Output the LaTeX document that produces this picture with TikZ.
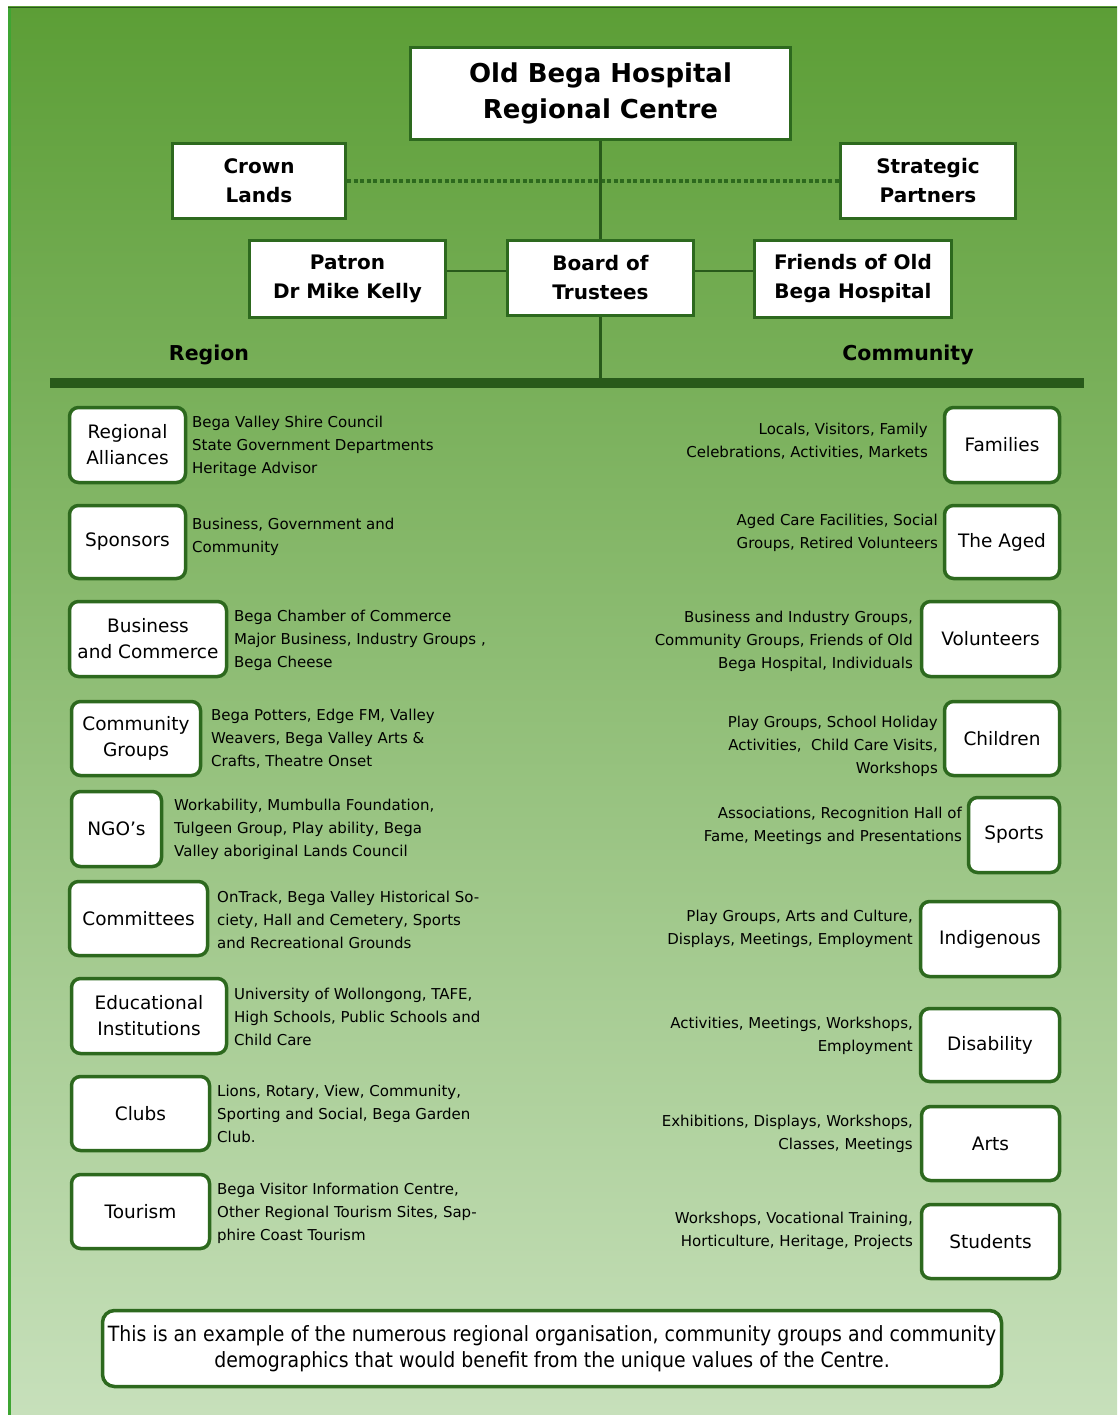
\documentclass[tikz,border=0pt]{standalone}
\usepackage{fontspec}
\setmainfont{DejaVu Sans}
\newfontfamily\narrowfont[FakeStretch=0.9]{DejaVu Sans}

\definecolor{bgtop}{RGB}{92,158,54}
\definecolor{bgbottom}{RGB}{199,224,187}
\definecolor{pageedge}{RGB}{62,165,50}
\definecolor{boxline}{RGB}{45,105,30}
\definecolor{barline}{RGB}{40,90,26}

\tikzset{
  orgbox/.style={draw=boxline, line width=3pt, fill=white, inner sep=2pt, align=center,
    font=\bfseries\fontsize{20}{29}\selectfont},
  groupbox/.style={draw=boxline, line width=3.5pt, fill=white, rounded corners=9pt, inner sep=2pt,
    align=center, font=\fontsize{18.5}{26}\selectfont},
  leftdesc/.style={anchor=west, align=left, inner sep=0pt, font=\fontsize{15}{23}\selectfont},
  rightdesc/.style={anchor=east, align=right, inner sep=0pt, font=\fontsize{15}{23}\selectfont},
  heading/.style={font=\bfseries\fontsize{20.5}{23}\selectfont},
  link/.style={draw=barline, line width=2.5pt},
}

\begin{document}
\begin{tikzpicture}[x=1pt, y=-1pt]
  \useasboundingbox (0,0) rectangle (1117,1415);
  \shade[top color=bgtop, bottom color=bgbottom] (8,7) rectangle (1117,1415);
  \draw[pageedge, line width=3pt] (9.5,7) -- (9.5,1415);
  \draw[barline, line width=1.5pt] (8,7.5) -- (1117,7.5);

  % management
  \node[orgbox, minimum width=380pt, minimum height=92pt, font=\bfseries\fontsize{26}{36}\selectfont]
    (centre) at (600.5,93.5) {Old Bega Hospital\\Regional Centre};
  \node[orgbox, minimum width=173pt, minimum height=75pt] (crown) at (259,181) {Crown\\Lands};
  \node[orgbox, minimum width=175pt, minimum height=75pt] (strategic) at (928,181) {Strategic\\Partners};
  \node[orgbox, minimum width=196pt, minimum height=77pt] (patron) at (347.5,279) {Patron\\Dr Mike Kelly};
  \node[orgbox, minimum width=186pt, minimum height=75pt] (board) at (600.5,278) {Board of\\Trustees};
  \node[orgbox, minimum width=197pt, minimum height=77pt] (friends) at (853,279) {Friends of Old\\Bega Hospital};

  \coordinate (barleft) at (50,383);
  \coordinate (barright) at (1084,383);
  \draw[barline, line width=10pt] (barleft) -- (barright);

  \draw[boxline, line width=3.5pt, dash pattern=on 4pt off 2.5pt] (crown.east) -- (strategic.west);
  \draw[link] (centre.south) -- (board.north);
  \draw[link] (board.south) -- (board.south |- barleft);
  \draw[link] ([yshift=7pt]board.west) -- ([yshift=7pt]board.west -| patron.east);
  \draw[link] ([yshift=7pt]board.east) -- ([yshift=7pt]board.east -| friends.west);

  \node[heading] (region) at (209,355) {Region};
  \node[heading] (community) at (908,355) {Community};

  % region
  \node[groupbox, minimum width=116pt, minimum height=75pt] (alliances) at (127.5,445) {Regional\\Alliances};
  \node[leftdesc] (alliancesinfo) at (192,446) {Bega Valley Shire Council\\State Government Departments\\Heritage Advisor};
  \node[groupbox, minimum width=116pt, minimum height=73pt] (sponsors) at (127.5,542) {Sponsors};
  \node[leftdesc] (sponsorsinfo) at (192,536.5) {Business, Government and\\Community};
  \node[groupbox, minimum width=157pt, minimum height=75pt] (business) at (148,639) {Business\\and Commerce};
  \node[leftdesc] (businessinfo) at (234,640) {Bega Chamber of Commerce\\Major Business, Industry Groups ,\\Bega Cheese};
  \node[groupbox, minimum width=129pt, minimum height=74pt] (groups) at (136,738.5) {Community\\Groups};
  \node[leftdesc] (groupsinfo) at (211,739) {Bega Potters, Edge FM, Valley\\Weavers, Bega Valley Arts \&\\Crafts, Theatre Onset};
  \node[groupbox, minimum width=90pt, minimum height=75pt] (ngo) at (116.5,829) {NGO’s};
  \node[leftdesc] (ngoinfo) at (174,829) {Workability, Mumbulla Foundation,\\Tulgeen Group, Play ability, Bega\\Valley aboriginal Lands Council};
  \node[groupbox, minimum width=138pt, minimum height=74pt] (committees) at (138.5,918.5) {Committees};
  \node[leftdesc] (committeesinfo) at (217,920) {OnTrack, Bega Valley Historical So-\\ciety, Hall and Cemetery, Sports\\and Recreational Grounds};
  \node[groupbox, minimum width=155pt, minimum height=75pt] (education) at (149,1016) {Educational\\Institutions};
  \node[leftdesc] (educationinfo) at (234,1017) {University of Wollongong, TAFE,\\High Schools, Public Schools and\\Child Care};
  \node[groupbox, minimum width=138pt, minimum height=74pt] (clubs) at (140.5,1113.5) {Clubs};
  \node[leftdesc] (clubsinfo) at (217,1114) {Lions, Rotary, View, Community,\\Sporting and Social, Bega Garden\\Club.};
  \node[groupbox, minimum width=138pt, minimum height=74pt] (tourism) at (140.5,1211.5) {Tourism};
  \node[leftdesc] (tourisminfo) at (217,1213) {Bega Visitor Information Centre,\\Other Regional Tourism Sites, Sap-\\phire Coast Tourism};

  % community
  \node[groupbox, minimum width=115pt, minimum height=75pt] (families) at (1002,445) {Families};
  \node[rightdesc] (familiesinfo) at (928,441.5) {Locals, Visitors, Family\\Celebrations, Activities, Markets};
  \node[groupbox, minimum width=115pt, minimum height=73pt] (aged) at (1002,542) {The Aged};
  \node[rightdesc] (agedinfo) at (938,532.5) {Aged Care Facilities, Social\\Groups, Retired Volunteers};
  \node[groupbox, minimum width=138pt, minimum height=75pt] (volunteers) at (990.5,639) {Volunteers};
  \node[rightdesc] (volunteersinfo) at (913,641) {Business and Industry Groups,\\Community Groups, Friends of Old\\Bega Hospital, Individuals};
  \node[groupbox, minimum width=115pt, minimum height=74pt] (children) at (1002,738.5) {Children};
  \node[rightdesc] (childreninfo) at (938,746) {Play Groups, School Holiday\\Activities, \ Child Care Visits,\\Workshops};
  \node[groupbox, minimum width=91pt, minimum height=75pt] (sports) at (1014,835) {Sports};
  \node[rightdesc] (sportsinfo) at (962,825.5) {Associations, Recognition Hall of\\Fame, Meetings and Presentations};
  \node[groupbox, minimum width=139pt, minimum height=75pt] (indigenous) at (990,939) {Indigenous};
  \node[rightdesc] (indigenousinfo) at (913,928.5) {Play Groups, Arts and Culture,\\Displays, Meetings, Employment};
  \node[groupbox, minimum width=139pt, minimum height=73pt] (disability) at (990,1045) {Disability};
  \node[rightdesc] (disabilityinfo) at (913,1035.5) {Activities, Meetings, Workshops,\\Employment};
  \node[groupbox, minimum width=138pt, minimum height=74pt] (arts) at (990.5,1143.5) {Arts};
  \node[rightdesc] (artsinfo) at (913,1133.5) {Exhibitions, Displays, Workshops,\\Classes, Meetings};
  \node[groupbox, minimum width=138pt, minimum height=74pt] (students) at (990.5,1241.5) {Students};
  \node[rightdesc] (studentsinfo) at (913,1230.5) {Workshops, Vocational Training,\\Horticulture, Heritage, Projects};

  \node[groupbox, rounded corners=12pt, minimum width=899pt, minimum height=76pt,
    font=\narrowfont\fontsize{21}{26}\selectfont] (note) at (552,1348.5)
    {This is an example of the numerous regional organisation, community groups and community\\demographics that would benefit from the unique values of the Centre.};
\end{tikzpicture}
\end{document}
